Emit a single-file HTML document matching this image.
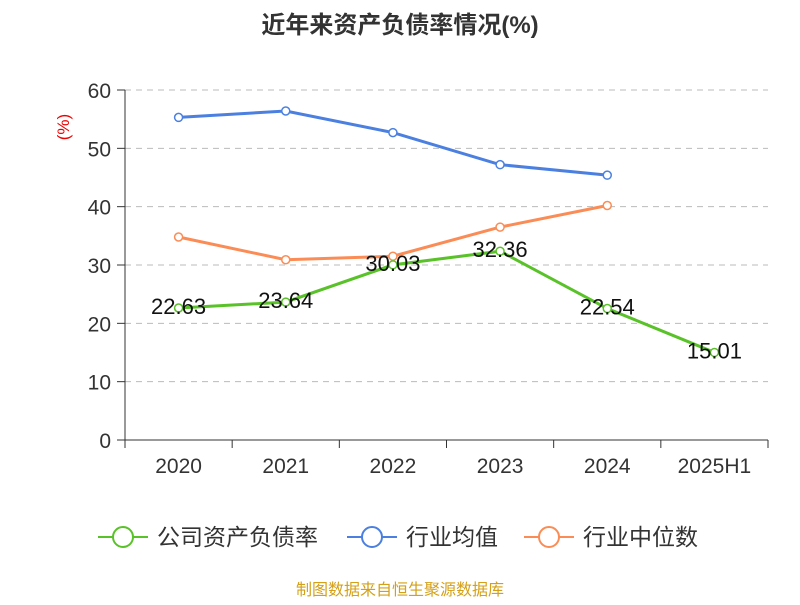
<!DOCTYPE html>
<html><head><meta charset="utf-8"><style>
body{margin:0;background:#fff;}
svg text{font-family:"Liberation Sans","Noto Sans CJK SC",sans-serif;}
</style></head><body>
<svg id="chart" width="800" height="600" viewBox="0 0 800 600" xmlns="http://www.w3.org/2000/svg">
<text x="400" y="33" text-anchor="middle" font-size="24" font-weight="bold" fill="#333">近年来资产负债率情况(%)</text>
<text x="69" y="127" text-anchor="middle" font-size="17" fill="#e00" transform="rotate(-90 69 127)">(%)</text>
<g id="grid"></g><g id="axes"></g><g id="series"></g>
<g>
<g><line x1="98" y1="537" x2="148" y2="537" stroke="#5ac229" stroke-width="2"/><circle cx="123" cy="537" r="10" fill="#fff" stroke="#5ac229" stroke-width="2"/><text x="157" y="545" font-size="23" fill="#333">公司资产负债率</text></g>
<g><line x1="347" y1="537" x2="397" y2="537" stroke="#4b80e0" stroke-width="2"/><circle cx="372" cy="537" r="10" fill="#fff" stroke="#4b80e0" stroke-width="2"/><text x="406" y="545" font-size="23" fill="#333">行业均值</text></g>
<g><line x1="524" y1="537" x2="574" y2="537" stroke="#fb8c55" stroke-width="2"/><circle cx="549" cy="537" r="10" fill="#fff" stroke="#fb8c55" stroke-width="2"/><text x="583" y="545" font-size="23" fill="#333">行业中位数</text></g>
</g>
<text x="400" y="595" text-anchor="middle" font-size="16" fill="#d4a017">制图数据来自恒生聚源数据库</text>
</svg>
<script>
const categories=["2020","2021","2022","2023","2024","2025H1"];
const yTicks=[0,10,20,30,40,50,60];
const companyValues=[22.63,23.64,30.03,32.36,22.54,15.01];
const industryAvgValues=[55.3,56.4,52.7,47.2,45.4];
const industryMedianValues=[34.8,30.9,31.5,36.5,40.2];
const NS="http://www.w3.org/2000/svg";
const L=125,R=768,T=90,B=440,yMax=60;
const bw=(R-L)/categories.length;
const x=i=>L+bw*(i+0.5);
const y=v=>B-(v/yMax)*(B-T);
function mk(tag,attrs,parent){const e=document.createElementNS(NS,tag);for(const k in attrs)e.setAttribute(k,attrs[k]);parent.appendChild(e);return e;}
const grid=document.getElementById('grid'),axes=document.getElementById('axes'),ser=document.getElementById('series');
yTicks.forEach(t=>{
 if(t>0){const g=mk('line',{x1:L,x2:R,y1:y(t),y2:y(t),stroke:'#bbb','stroke-dasharray':'6,5'},grid);
 
 }
 const tk=mk('line',{x1:L-8,x2:L,y1:y(t),y2:y(t),stroke:'#333'},axes);
 
 
 const tx=mk('text',{x:L-14,y:y(t)+8,'text-anchor':'end','font-size':21,fill:'#333'},axes);tx.textContent=t;
 
 
});
const ya=mk('line',{x1:L,x2:L,y1:T,y2:B,stroke:'#333'},axes);


const xa=mk('line',{x1:L,x2:R,y1:B,y2:B,stroke:'#333'},axes);


for(let i=0;i<=categories.length;i++){const tk=mk('line',{x1:L+bw*i,x2:L+bw*i,y1:B,y2:B+8,stroke:'#333'},axes);
 
 }
categories.forEach((c,i)=>{const t=mk('text',{x:x(i),y:B+33,'text-anchor':'middle','font-size':21,fill:'#333'},axes);t.textContent=c;
 
 });
function series(vals,color,name,labels){
 const g=mk('g',{},ser);
 
 
 const p=mk('polyline',{points:vals.map((v,i)=>x(i)+','+y(v)).join(' '),fill:'none',stroke:color,'stroke-width':3},g);
 
 
 vals.forEach((v,i)=>{const c=mk('circle',{cx:x(i),cy:y(v),r:4,fill:'#fff',stroke:color,'stroke-width':1.5},g);
  
  
  if(labels){const t=mk('text',{x:x(i),y:y(v)+6,'text-anchor':'middle','font-size':22,fill:'#111'},g);t.textContent=v.toFixed(2);
   
   }
 });
}
series(industryAvgValues,'#4b80e0','industry-average-series',false);
series(industryMedianValues,'#fb8c55','industry-median-series',false);
series(companyValues,'#5ac229','company-series',true);
</script>
</body></html>
